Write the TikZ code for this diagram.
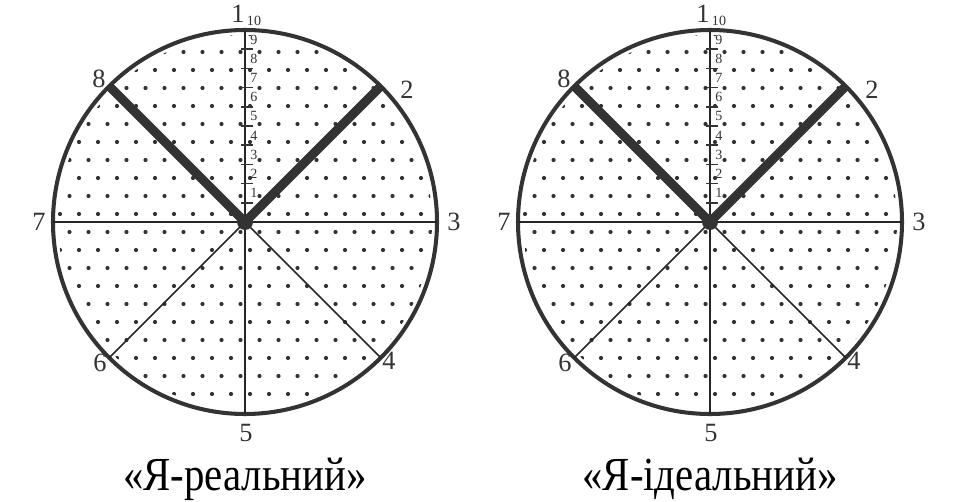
\documentclass[tikz,border=0pt]{standalone}
\usepackage{fontspec}
\setmainfont{Liberation Serif}
\usetikzlibrary{calc}
\begin{document}
\begin{tikzpicture}[x=0.02cm, y=0.02cm]
    \tikzset{
        rand/.style={line width=2.3pt, black!80},
        strahl/.style={line width=0.9pt, black!85},
        dick/.style={line width=5.2pt, black!80},
        punkt/.style={fill=black!80},
        ziffer/.style={font=\fontsize{15}{15}\selectfont, text=black!80, inner sep=0pt},
        skala/.style={font=\fontsize{8}{8}\selectfont, text=black!80, inner sep=0pt},
        titel/.style={font=\fontsize{27}{27}\selectfont, xscale=0.86},
    }
    \useasboundingbox (0,0) rectangle (960,501);

    \foreach \cx/\nm/\txt in {245/real/{«Я-реальний»}, 710/ideal/{«Я-ідеальний»}} {
        % Mittelpunkt
        \coordinate (\nm-m) at (\cx,279);

        % Punktraster
        \begin{scope}
            \clip (\nm-m) circle (187);
            \foreach \r in {-11,...,11}
                \foreach \c in {-11,...,11}
                    \fill[punkt] ({\cx + \c*19 + 9.5*mod(abs(\r),2) + 5}, {279 + \r*18 + 8}) circle (2.1);
        \end{scope}

        % Kreis und Strahlen
        \draw[rand] (\nm-m) circle (192);
        \foreach \w/\l in {90/1, 45/2, 0/3, -45/4, -90/5, -135/6, 180/7, 135/8} {
            \path (\nm-m) ++(\w:192) coordinate (\nm-\l);
            \draw[strahl] (\nm-m) -- (\nm-\l);
        }
        \draw[dick] (\nm-8) -- (\nm-m) -- (\nm-2);
        \fill[black!80] (\nm-m) circle (8);

        % Nummern der Strahlen
        \foreach \l/\dx/\dy in {1/-7/208, 2/162/132, 3/209/0, 4/144/-139, 5/1/-211, 6/-145/-141, 7/-206/0, 8/-146/143}
            \node[ziffer] (\nm-z\l) at ($(\nm-m)+(\dx,\dy)$) {\l};

        % Skala 1 bis 10
        \foreach \k in {1,...,10} {
            \draw[line width=1pt, black!80] ({\cx-4}, {279+\k*19.2}) -- ({\cx+8}, {279+\k*19.2});
            \node[skala] (\nm-s\k) at ({\cx+9}, {279+(\k+0.5)*19.2}) {\k};
        }

        % Beschriftung
        \node[titel] (\nm-t) at (\cx,22) {\txt};
    }
\end{tikzpicture}
\end{document}
